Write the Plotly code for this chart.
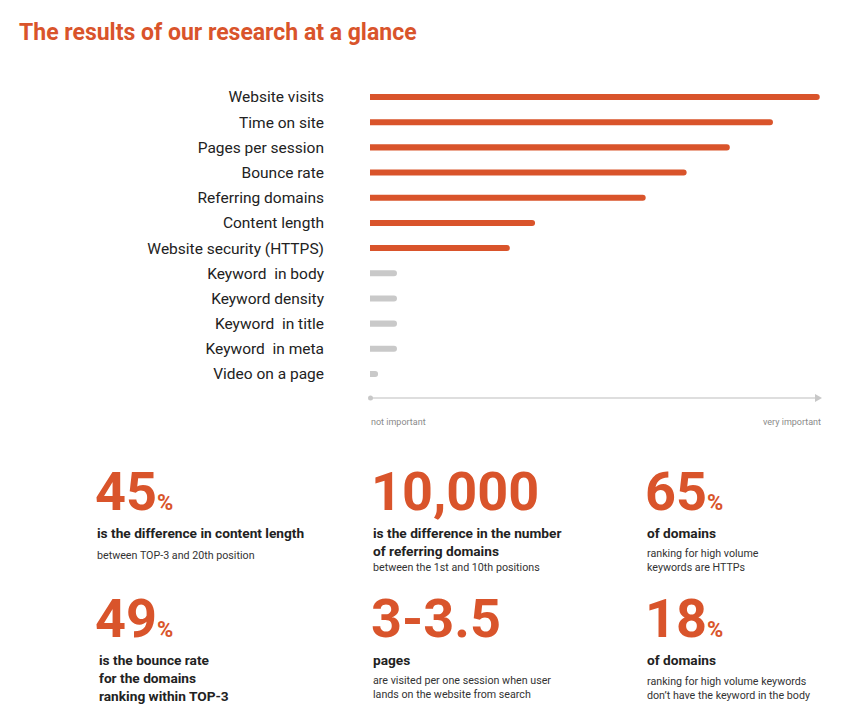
import plotly.graph_objects as go

W, H = 864, 720

title = "The results of our research at a glance"
factors = ["Website visits", "Time on site", "Pages per session", "Bounce rate",
           "Referring domains", "Content length", "Website security (HTTPS)",
           "Keyword  in body", "Keyword density", "Keyword  in title",
           "Keyword  in meta", "Video on a page"]
importance = [100, 89.6, 80, 70.4, 61.3, 36.7, 31.1, 6, 6, 6, 6, 1.8]
axis_labels = ["not important", "very important"]

stat_numbers = ["45", "10,000", "65", "49", "3-3.5", "18"]
stat_suffix = ["%", "", "%", "%", "", "%"]
stat_heads = ["is the difference in content length",
              "is the difference in the number<br>of referring domains",
              "of domains",
              "is the bounce rate<br>for the domains<br>ranking within TOP-3",
              "pages",
              "of domains"]
stat_notes = ["between TOP-3 and 20th position",
              "between the 1st and 10th positions",
              "ranking for high volume<br>keywords are HTTPs",
              "",
              "are visited per one session when user<br>lands on the website from search",
              "ranking for high volume keywords<br>don\u2019t have the keyword in the body"]

ORANGE = "#D9542B"
GRAY = "#C9C9C9"
DARK = "#222222"
FONT = "Roboto"
OFF = 8  # page body margin

def px(x):
    return (x - OFF) / W

def py(y):
    return 1 - (y - OFF) / H

colors = [ORANGE if v > 20 else GRAY for v in importance]

fig = go.Figure(go.Bar(
    x=importance, y=factors, orientation="h",
    marker=dict(color=colors, line=dict(width=0)),
    width=0.24, hoverinfo="skip"))

fig.update_layout(
    width=W, height=H, margin=dict(l=0, r=0, t=0, b=0),
    paper_bgcolor="white", plot_bgcolor="white",
    showlegend=False, barcornerradius=3,
    font=dict(family=FONT, color=DARK),
    xaxis=dict(domain=[px(370), px(822)], range=[0, 100.5], visible=False, fixedrange=True),
    yaxis=dict(domain=[py(386.6), py(84.4)], range=[11.5, -0.5], showgrid=False,
               showline=False, ticks="", tickfont=dict(family=FONT, size=15.5, color=DARK),
               ticklabelstandoff=45, fixedrange=True),
)

# importance axis arrow
ay = py(398)
fig.add_shape(type="line", xref="x", yref="paper", x0=0, x1=99, y0=ay, y1=ay,
              line=dict(color="#D3D3D3", width=1.5))
fig.add_shape(type="circle", xref="paper", yref="paper",
              x0=px(368), x1=px(373), y0=py(400.5), y1=py(395.5),
              fillcolor="#C8C8C8", line=dict(width=0))
fig.add_shape(type="path", xref="paper", yref="paper",
              path=f"M {px(815)} {py(394)} L {px(822)} {py(398)} L {px(815)} {py(402)} Z",
              fillcolor="#C8C8C8", line=dict(width=0))

annots = []
annots.append(dict(text=f"<b>{title}</b>", x=px(17), y=py(33), xanchor="left", yanchor="middle",
                   font=dict(family=FONT, size=23, color=ORANGE)))
annots.append(dict(text=axis_labels[0], x=px(369), y=py(422), xanchor="left", yanchor="middle",
                   font=dict(family=FONT, size=9, color="#8A8A8A")))
annots.append(dict(text=axis_labels[1], x=px(823), y=py(422), xanchor="right", yanchor="middle",
                   font=dict(family=FONT, size=9, color="#8A8A8A")))

# stats layout positions: (x, number top, head top, note top)
pos = [(93, 458, 523, 547),
       (369, 458, 523, 559),
       (643, 458, 523, 545),
       (93, 585, 650, None),
       (369, 585, 650, 672),
       (643, 585, 650, 673)]
for i, (x, yn, yh, yt) in enumerate(pos):
    num = f"<b>{stat_numbers[i]}</b>"
    if stat_suffix[i]:
        num += f"<b><span style='font-size:22px'>{stat_suffix[i]}</span></b>"
    annots.append(dict(text=num, x=px(x), y=py(yn), xanchor="left", yanchor="top",
                       font=dict(family=FONT, size=54, color=ORANGE)))
    hx = x + 4 if i == 3 else x + 2
    annots.append(dict(text=f"<b>{stat_heads[i]}</b>", x=px(hx), y=py(yh), xanchor="left",
                       yanchor="top", align="left",
                       font=dict(family=FONT, size=13.7, color=DARK)))
    if stat_notes[i] and yt is not None:
        annots.append(dict(text=stat_notes[i], x=px(x + 2), y=py(yt), xanchor="left",
                           yanchor="top", align="left",
                           font=dict(family=FONT, size=10.7, color="#333333")))

for a in annots:
    a.update(xref="paper", yref="paper", showarrow=False)
fig.update_layout(annotations=annots)

fig.write_html("out.html")
